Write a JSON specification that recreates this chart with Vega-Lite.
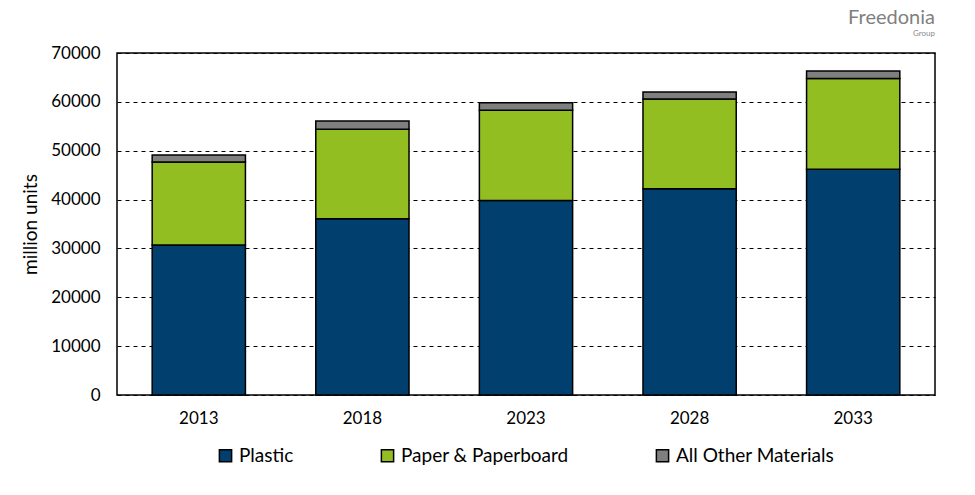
{
  "$schema": "https://vega.github.io/schema/vega-lite/v6.json",
  "autosize": {"type": "none"},
  "width": 818,
  "height": 342,
  "padding": {"left": 117, "top": 53, "right": 40, "bottom": 100},
  "background": "white",
  "title": {
    "text": "Freedonia",
    "subtitle": "Group",
    "anchor": "end",
    "align": "right",
    "font": "Lato",
    "fontSize": 20,
    "fontWeight": "normal",
    "color": "#7f7f7f",
    "subtitleFont": "Lato",
    "subtitleFontSize": 8,
    "subtitleColor": "#8a8a8a",
    "subtitlePadding": 2,
    "offset": 6
  },
  "config": {
    "font": "Lato",
    "view": {"stroke": "black", "strokeWidth": 1.5},
    "axis": {"labelFont": "Lato", "titleFont": "Lato", "labelColor": "black", "titleColor": "black"}
  },
  "data": {
    "values": [
      {"year": "2013", "material": "Plastic", "value": 30700, "ord": 1},
      {"year": "2013", "material": "Paper & Paperboard", "value": 17000, "ord": 2},
      {"year": "2013", "material": "All Other Materials", "value": 1400, "ord": 3},
      {"year": "2018", "material": "Plastic", "value": 36100, "ord": 1},
      {"year": "2018", "material": "Paper & Paperboard", "value": 18300, "ord": 2},
      {"year": "2018", "material": "All Other Materials", "value": 1700, "ord": 3},
      {"year": "2023", "material": "Plastic", "value": 39800, "ord": 1},
      {"year": "2023", "material": "Paper & Paperboard", "value": 18500, "ord": 2},
      {"year": "2023", "material": "All Other Materials", "value": 1500, "ord": 3},
      {"year": "2028", "material": "Plastic", "value": 42200, "ord": 1},
      {"year": "2028", "material": "Paper & Paperboard", "value": 18400, "ord": 2},
      {"year": "2028", "material": "All Other Materials", "value": 1400, "ord": 3},
      {"year": "2033", "material": "Plastic", "value": 46200, "ord": 1},
      {"year": "2033", "material": "Paper & Paperboard", "value": 18600, "ord": 2},
      {"year": "2033", "material": "All Other Materials", "value": 1500, "ord": 3}
    ]
  },
  "mark": {"type": "bar", "stroke": "black", "strokeWidth": 1.5},
  "encoding": {
    "x": {
      "field": "year",
      "type": "nominal",
      "scale": {"paddingInner": 0.43, "paddingOuter": 0.215},
      "axis": {
        "title": null,
        "labelAngle": 0,
        "labelFontSize": 17,
        "labelPadding": 15,
        "ticks": false,
        "domain": false
      }
    },
    "y": {
      "field": "value",
      "type": "quantitative",
      "stack": "zero",
      "scale": {"domain": [0, 70000], "nice": false},
      "axis": {
        "title": "million units",
        "titleFontSize": 19,
        "titleFontWeight": "normal",
        "titlePadding": 10,
        "values": [0, 10000, 20000, 30000, 40000, 50000, 60000, 70000],
        "format": "d",
        "labelFontSize": 17,
        "labelPadding": 17,
        "ticks": false,
        "domain": false,
        "grid": true,
        "gridColor": "black",
        "gridDash": [4, 4],
        "gridWidth": 1
      }
    },
    "color": {
      "field": "material",
      "type": "nominal",
      "scale": {
        "domain": ["Plastic", "Paper & Paperboard", "All Other Materials"],
        "range": ["#003f6e", "#93be22", "#7f7f7f"]
      },
      "legend": {
        "title": null,
        "orient": "none",
        "legendX": 99,
        "legendY": 393,
        "direction": "horizontal",
        "symbolType": "square",
        "symbolSize": 150,
        "symbolStrokeColor": "black",
        "symbolStrokeWidth": 1.5,
        "labelFontSize": 19,
        "labelLimit": 300,
        "labelColor": "black",
        "columnPadding": 84,
        "labelOffset": 4
      }
    },
    "order": {"field": "ord", "type": "quantitative"}
  }
}
